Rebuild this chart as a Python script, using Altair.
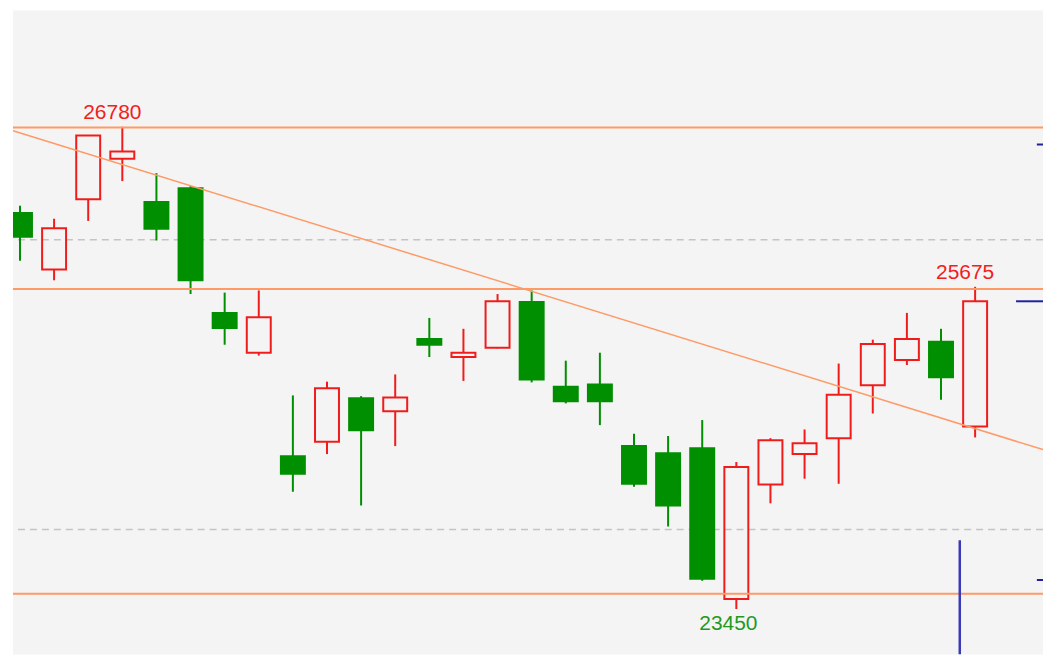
import altair as alt
import pandas as pd

# ---- data ----
idx = list(range(29))
opens = [26185, 25795, 26280, 26560, 26260, 26355, 25495, 25220, 24505, 24605,
         24905, 24815, 25315, 25190, 25255, 25570, 24985, 25000, 24575, 24525,
         24560, 23520, 24310, 24520, 24630, 24995, 25170, 25295, 24710]
highs = [26235, 26145, 26720, 26780, 26460, 26370, 25635, 25650, 24925, 25020,
         24920, 25070, 25460, 25385, 25625, 25650, 25165, 25220, 24660, 24645,
         24755, 24465, 24630, 24690, 25145, 25310, 25495, 25385, 25675]
lows = [25855, 25720, 26130, 26405, 25995, 25625, 25275, 25200, 24260, 24520,
        24165, 24575, 25190, 25025, 25250, 25015, 24870, 24720, 24295, 24020,
        23645, 23450, 24180, 24350, 24315, 24800, 25135, 24895, 24635]
closes = [26020, 26080, 26720, 26610, 26075, 25720, 25390, 25465, 24385, 24975,
          24685, 24910, 25275, 25220, 25575, 25035, 24885, 24885, 24315, 24165,
          23660, 24430, 24615, 24595, 24930, 25280, 25315, 25050, 25575]

level_lines = [26775, 25660, 23555]          # orange horizontal lines
grid_levels = [26000, 24000]                 # dashed gray lines
trend_idx = [-0.205, 29.99]
trend_val = [26753, 24551]

blue_h_y = [26657, 25575, 23651]
blue_h_x1 = [29.81, 29.2, 29.81]
blue_h_x2 = [29.99, 29.99, 29.99]
blue_v_x = [27.55]
blue_v_top = [23925]

label_idx = [3, 28, 21]
label_val = [26780, 25675, 23450]
label_txt = ["26780", "25675", "23450"]

X_DOMAIN = [-0.205, 29.99]
Y_DOMAIN = [23137, 27582]

RED = "#f01c1c"
GREEN = "#008f00"
ORANGE = "#ff9a66"
BLUE = "#3a3ab8"
BG = "#f4f4f4"

df = pd.DataFrame({"i": idx, "open": opens, "high": highs, "low": lows, "close": closes})

xs = alt.Scale(domain=X_DOMAIN, nice=False, zero=False, padding=0)
ys = alt.Scale(domain=Y_DOMAIN, nice=False, zero=False, padding=0)
X = alt.X("i:Q", scale=xs, axis=None)

base = alt.Chart(df).transform_calculate(
    top="max(datum.open, datum.close)", bot="min(datum.open, datum.close)"
)
up = "datum.close >= datum.open"
down = "datum.close < datum.open"

grid = alt.Chart(pd.DataFrame({"v": grid_levels})).mark_rule(
    color="#c4c4c4", strokeWidth=1.5, strokeDash=[7, 5]
).encode(y=alt.Y("v:Q", scale=ys, axis=None))

def wick(cond, color):
    b = base.transform_filter(cond)
    w1 = b.mark_rule(color=color, strokeWidth=2).encode(
        X, y=alt.Y("high:Q", scale=ys, axis=None), y2="top:Q")
    w2 = b.mark_rule(color=color, strokeWidth=2).encode(
        X, y=alt.Y("bot:Q", scale=ys, axis=None), y2="low:Q")
    return w1 + w2

red_body = base.transform_filter(up).mark_bar(
    size=24, fill=BG, fillOpacity=0, stroke=RED, strokeWidth=2, clip=True
).encode(X, y=alt.Y("open:Q", scale=ys, axis=None), y2="close:Q")

green_body = base.transform_filter(down).mark_bar(
    size=24, fill=GREEN, stroke=GREEN, strokeWidth=2, clip=True
).encode(X, y=alt.Y("open:Q", scale=ys, axis=None), y2="close:Q")

levels = alt.Chart(pd.DataFrame({"v": level_lines})).mark_rule(
    color=ORANGE, strokeWidth=2
).encode(y=alt.Y("v:Q", scale=ys, axis=None))

trend = alt.Chart(pd.DataFrame({"i": trend_idx, "v": trend_val})).mark_line(
    color=ORANGE, strokeWidth=1.5, clip=True
).encode(x=alt.X("i:Q", scale=xs, axis=None), y=alt.Y("v:Q", scale=ys, axis=None))

blue_h = alt.Chart(pd.DataFrame({"x1": blue_h_x1, "x2": blue_h_x2, "y": blue_h_y})).mark_rule(
    color="#22229a", strokeWidth=2, clip=True
).encode(x=alt.X("x1:Q", scale=xs, axis=None), x2="x2:Q", y=alt.Y("y:Q", scale=ys, axis=None))

blue_v = alt.Chart(pd.DataFrame({"x": blue_v_x, "top": blue_v_top, "bot": [Y_DOMAIN[0]]})).mark_rule(
    color=BLUE, strokeWidth=2.5, clip=True
).encode(x=alt.X("x:Q", scale=xs, axis=None), y=alt.Y("top:Q", scale=ys, axis=None), y2="bot:Q")

lab = pd.DataFrame({"i": label_idx, "v": label_val, "t": label_txt})
top_labels = alt.Chart(lab.iloc[:2]).mark_text(
    font="Liberation Sans", fontSize=21, color="#f22020", baseline="alphabetic",
    align="center", dx=-10, dy=-8
).encode(x=alt.X("i:Q", scale=xs, axis=None), y=alt.Y("v:Q", scale=ys, axis=None), text="t:N")
bot_labels = alt.Chart(lab.iloc[2:]).mark_text(
    font="Liberation Sans", fontSize=21, color="#1f9a1f", baseline="alphabetic",
    align="center", dx=-8, dy=21
).encode(x=alt.X("i:Q", scale=xs, axis=None), y=alt.Y("v:Q", scale=ys, axis=None), text="t:N")

chart = alt.layer(
    grid, wick(up, RED), wick(down, GREEN), green_body, red_body,
    levels, trend, blue_h, blue_v, top_labels, bot_labels
).properties(
    width=1032, height=645,
    padding={"left": 4, "top": 2, "right": 0, "bottom": 0},
    background="white",
).configure_view(fill=BG, stroke=None)

chart.save("out.html", embed_options={"renderer": "svg", "actions": False})
